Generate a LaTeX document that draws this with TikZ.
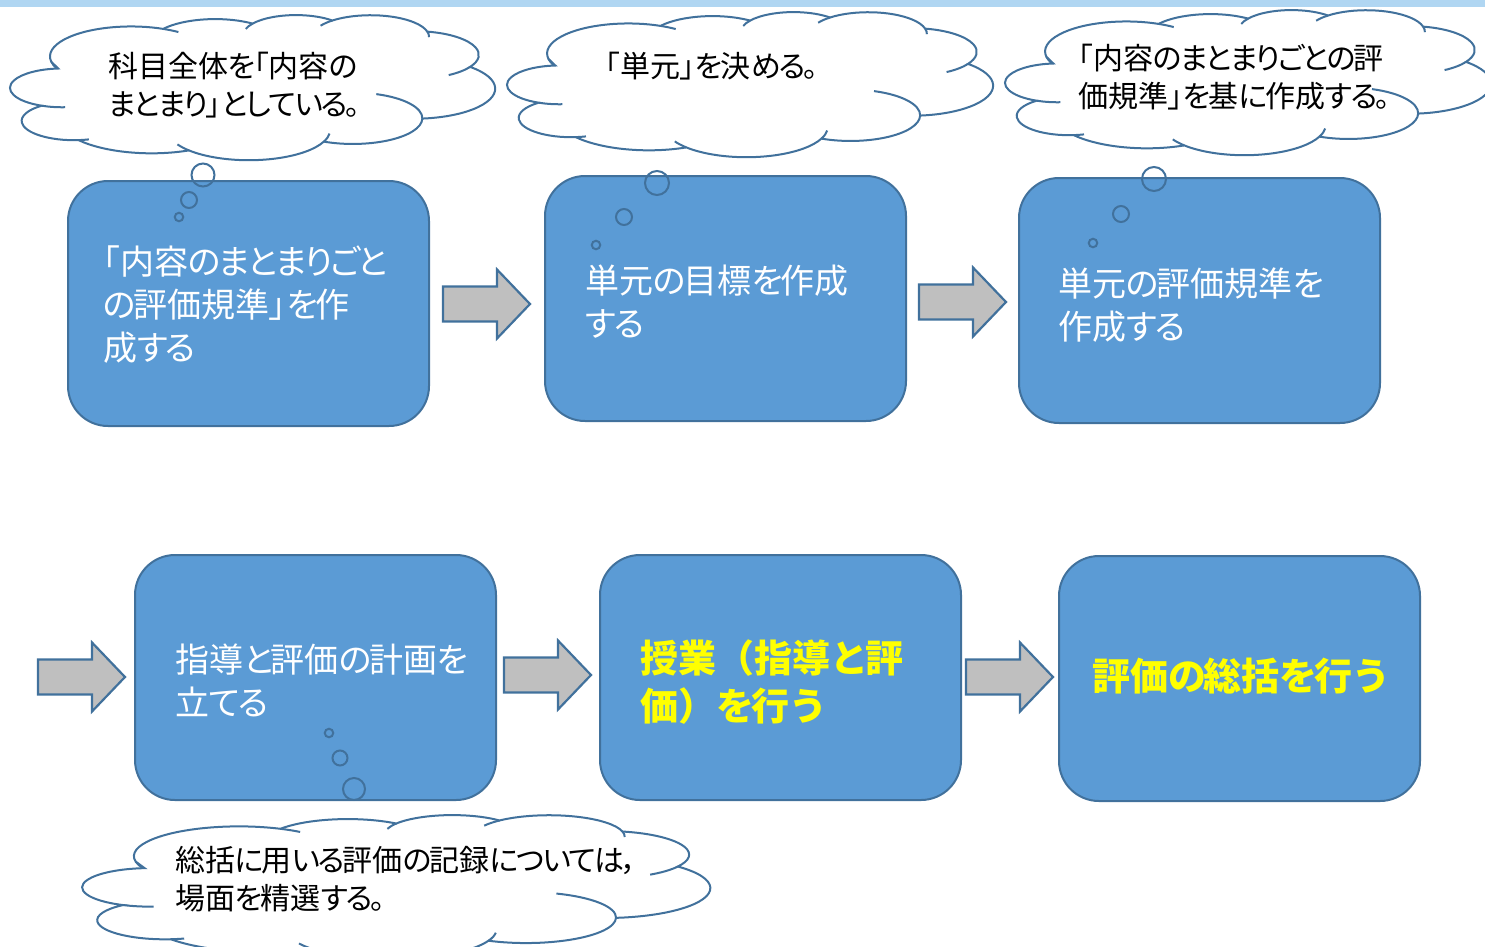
\documentclass[tikz,border=0pt]{standalone}
\usepackage{fontspec}
\setmainfont{Noto Sans CJK JP}[RawFeature=+palt]
\newfontfamily\jpfull{Noto Sans CJK JP}
% slightly narrower kana, as in the reference typeface
\XeTeXinterchartokenstate=1
\newXeTeXintercharclass\kanacls
\count255="3041
\loop \XeTeXcharclass\count255=\kanacls \ifnum\count255<"30FF \advance\count255 by 1 \repeat
\XeTeXinterchartoks\kanacls 0 = {\kern-0.07em}
\XeTeXinterchartoks\kanacls 1 = {\kern-0.07em}
\XeTeXinterchartoks\kanacls 2 = {\kern-0.07em}
\XeTeXinterchartoks\kanacls 3 = {\kern-0.07em}
\XeTeXinterchartoks\kanacls\kanacls = {\kern-0.07em}
\definecolor{boxfill}{RGB}{91,155,213}
\definecolor{boxline}{RGB}{65,113,156}
\definecolor{arrfill}{RGB}{191,191,191}
\definecolor{barblue}{RGB}{176,214,242}
\definecolor{hiyellow}{RGB}{255,255,0}
\tikzset{
  stepbox/.style={draw=boxline, fill=boxfill, line width=2pt, rounded corners=40pt,
    minimum width=361pt, minimum height=245pt, inner sep=0pt, anchor=north west},
  boxtext/.style={text=white, font=\fontsize{34}{43}\selectfont, align=left, inner sep=0pt, anchor=west},
  boldtext/.style={text=hiyellow, font=\jpfull\bfseries\fontsize{38}{48}\selectfont, align=left, inner sep=0pt, anchor=west},
  cloudtext/.style={text=black, font=\fontsize{30}{38}\selectfont, align=left, inner sep=0pt, anchor=west},
  cloudline/.style={draw=boxline, line width=2pt},
  bubble/.style={circle, draw=boxline, line width=2pt, inner sep=0pt},
  arrowstyle/.style={draw=boxline, fill=arrfill, line width=2.2pt, line join=miter},
  blockarr/.pic={\path[arrowstyle] (0,-17.5) -- (54,-17.5) -- (54,-34.5) -- (87,0) -- (54,34.5) -- (54,17.5) -- (0,17.5) -- cycle;}
}
% #1 name prefix, #2 x0, #3 y0, #4 width, #5 height
\newcommand\pptcloud[5]{%
 \begin{scope}[shift={(#2,#3)}, xscale=#4/432, yscale=#5/432]
  \path[cloudline, fill=white] (39.00,143.70) coordinate (#1n0)
   arc[x radius=67.53, y radius=91.90, start angle=-190.4875, delta angle=123.7805] coordinate (#1n1)
   arc[x radius=53.33, y radius=72.67, start angle=-144.1024, delta angle=89.9452] coordinate (#1n2)
   arc[x radius=43.65, y radius=59.45, start angle=-145.8079, delta angle=99.7230] coordinate (#1n3)
   arc[x radius=48.57, y radius=65.95, start angle=-130.9861, delta angle=117.2417] coordinate (#1n4)
   arc[x radius=53.33, y radius=72.73, start angle=-78.7089, delta angle=109.0269] coordinate (#1n5)
   arc[x radius=67.75, y radius=92.20, start angle=-46.2673, delta angle=130.2690] coordinate (#1n6)
   arc[x radius=57.85, y radius=78.67, start angle=0.6250, delta angle=114.0333] coordinate (#1n7)
   arc[x radius=67.52, y radius=92.15, start angle=22.4516, delta angle=115.1726] coordinate (#1n8)
   arc[x radius=77.20, y radius=105.43, start angle=66.2426, delta angle=75.7110] coordinate (#1n9)
   arc[x radius=43.60, y radius=59.18, start angle=-274.9421, delta angle=146.7356] coordinate (#1n10)
   arc[x radius=43.45, y radius=59.45, start angle=-246.8285, delta angle=152.5189]
   -- cycle;
  \path[cloudline]
   (#1n0) arc[x radius=67.53, y radius=91.90, start angle=169.5125, delta angle=-11.86]
   (#1n1) arc[x radius=67.53, y radius=91.90, start angle=-66.7070, delta angle=12.32]
   (#1n2) arc[x radius=43.65, y radius=59.45, start angle=-145.8079, delta angle=-17.69]
   (#1n3) arc[x radius=48.57, y radius=65.95, start angle=-130.9861, delta angle=-18.20]
   (#1n4) arc[x radius=48.57, y radius=65.95, start angle=-13.7444, delta angle=14.86]
   (#1n5) arc[x radius=53.33, y radius=72.73, start angle=30.3180, delta angle=27.75]
   (#1n6) arc[x radius=57.85, y radius=78.67, start angle=0.6250, delta angle=-70.92]
   (#1n7) arc[x radius=67.52, y radius=92.15, start angle=22.4516, delta angle=-16.00]
   (#1n8) arc[x radius=67.52, y radius=92.15, start angle=137.6242, delta angle=14.08]
   (#1n9) arc[x radius=43.60, y radius=59.18, start angle=85.0579, delta angle=-11.45]
   (#1n10) arc[x radius=43.45, y radius=59.45, start angle=113.1715, delta angle=-26.43];
 \end{scope}}
\begin{document}
\begin{tikzpicture}[x=1pt, y=-1pt]
\useasboundingbox (0,0) rectangle (1485,946);
\clip (0,0) rectangle (1485,946);
\fill[barblue] (0,0) rectangle (1485,7);

% clouds
\pptcloud{ca}{4.5}{15}{519}{141}
\pptcloud{cb}{501.5}{12}{520}{141}
\pptcloud{cc}{999.5}{10}{520}{141}
\node[cloudtext] (c1) at (108,85) {科目全体を「内容の\\まとまり」としている。};
\node[cloudtext] (c2) at (605,66) {「単元」を決める。};
\node[cloudtext] (c3) at (1078,77) {「内容のまとまりごとの評\\価規準」を基に作成する。};

% boxes
\node[stepbox] (b1) at (67,180) {};
\node[stepbox] (b2) at (544,175) {};
\node[stepbox] (b3) at (1018,177) {};
\node[stepbox] (b4) at (134,554) {};
\node[stepbox] (b5) at (599,554) {};
\node[stepbox] (b6) at (1058,555) {};

\node[boxtext] (t1) at (103,305) {「内容のまとまりごと\\の評価規準」を作\\成する};
\node[boxtext] (t2) at (585,302) {単元の目標を作成\\する};
\node[boxtext] (t3) at (1058,305) {単元の評価規準を\\作成する};
\node[boxtext] (t4) at (175,680) {指導と評価の計画を\\立てる};
\node[boldtext] (t5) at (640,682) {授業（指導と評\\価）を行う};
\node[boldtext] (t6) at (1092,676) {評価の総括を行う};

% block arrows
\pic at (443,304) {blockarr};
\pic at (919,302) {blockarr};
\pic at (38,677) {blockarr};
\pic at (504,675) {blockarr};
\pic at (966,677) {blockarr};

% thought bubbles
\node[bubble, minimum size=23pt] (p11) at (203,175) {};
\node[bubble, minimum size=16pt] (p12) at (189,200) {};
\node[bubble, minimum size=8.5pt] (p13) at (179,217) {};
\node[bubble, minimum size=24pt] (p21) at (657,183) {};
\node[bubble, minimum size=16pt] (p22) at (624,217) {};
\node[bubble, minimum size=8.5pt] (p23) at (596,245) {};
\node[bubble, minimum size=24pt] (p31) at (1154,179) {};
\node[bubble, minimum size=16pt] (p32) at (1121,214) {};
\node[bubble, minimum size=8.5pt] (p33) at (1093,243) {};
\node[bubble, minimum size=8.5pt] (p41) at (329,733) {};
\node[bubble, minimum size=15pt] (p42) at (340,758) {};
\node[bubble, minimum size=22pt] (p43) at (354,789) {};

% bottom cloud
\pptcloud{cd}{75}{815}{672}{140}
\node[cloudtext] (c4) at (175,879) {総括に用いる評価の記録については，\\場面を精選する。};
\end{tikzpicture}
\end{document}
